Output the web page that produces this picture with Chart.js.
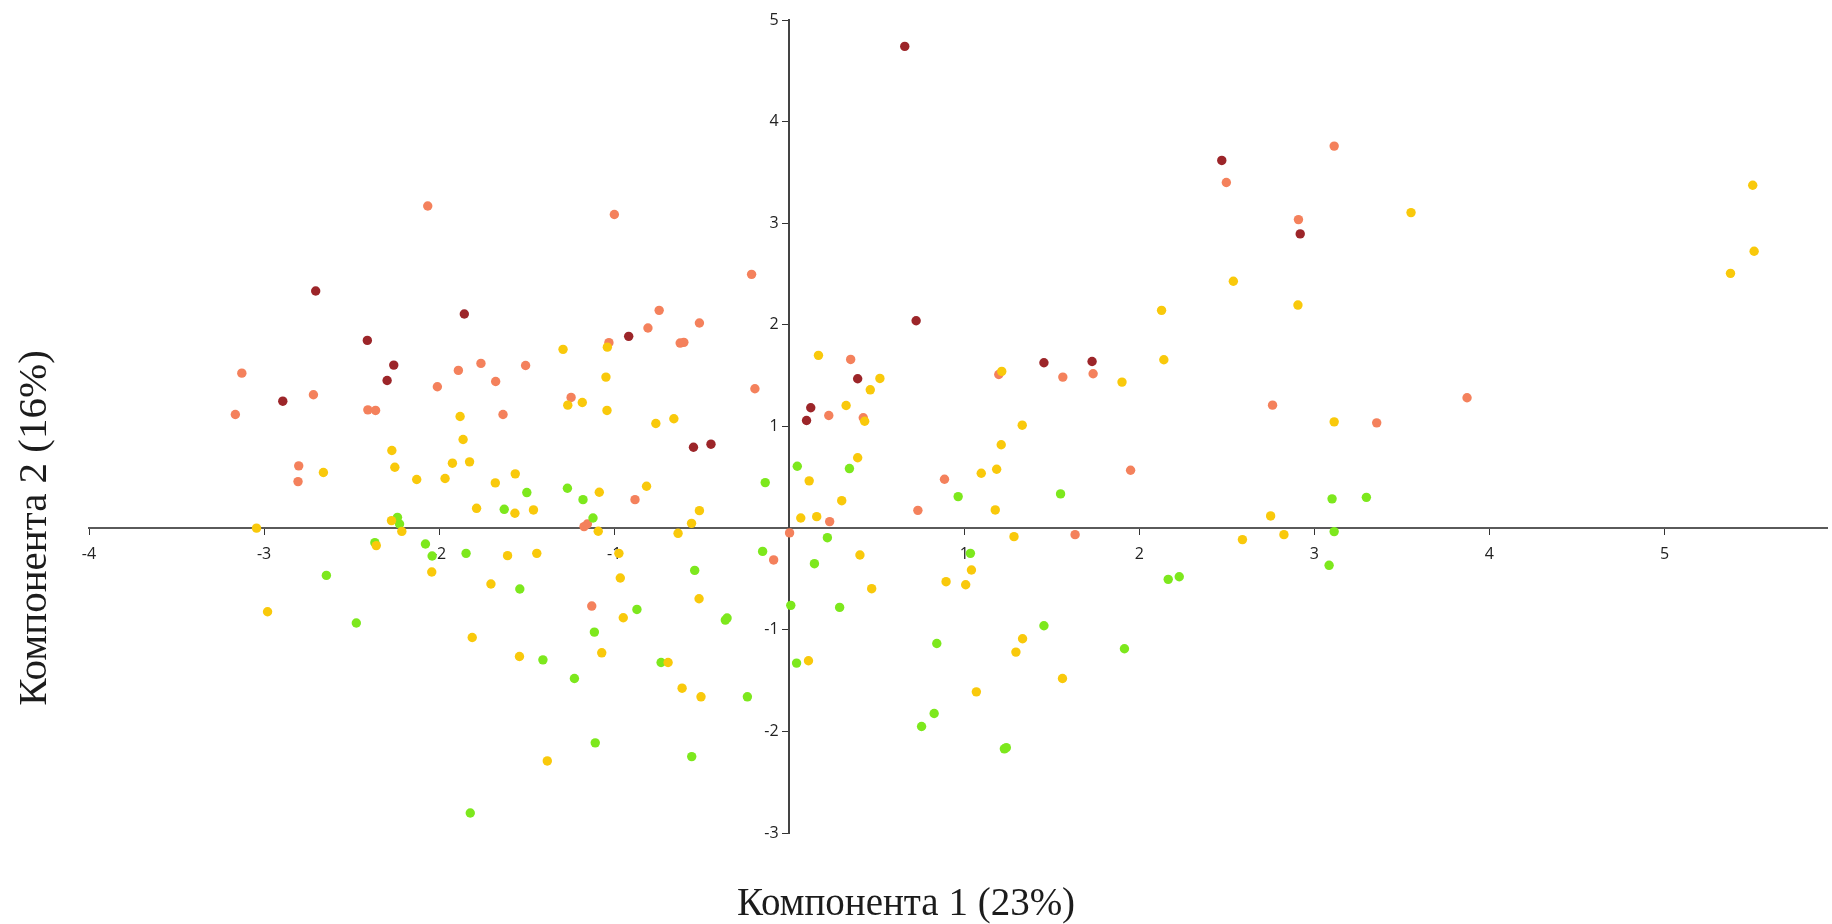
<!DOCTYPE html>
<html>
<head>
<meta charset="utf-8">
<script src="https://cdn.jsdelivr.net/npm/chart.js@4.4.1/dist/chart.umd.min.js"></script>
<style>
html,body{margin:0;padding:0;background:#ffffff;overflow:hidden;}
#wrap{position:relative;width:1832px;height:924px;}
</style>
</head>
<body>
<div id="wrap"><canvas id="c"></canvas></div>
<script>
// ---- Text ----
const xTitle = 'Компонента 1 (23%)';
const yTitle = 'Компонента 2 (16%)';

// ---- Tick labels ----
const xTickValues = [-4, -3, -2, -1, 1, 2, 3, 4, 5];
const yTickValues = [-3, -2, -1, 1, 2, 3, 4, 5];

// ---- Series (Компонента 1, Компонента 2) ----
const darkRedPoints = [
  [-2.705, 2.333], [-1.856, 2.107], [-2.41, 1.847], [-2.259, 1.604], [-2.297, 1.453],
  [-2.893, 1.249], [-0.917, 1.887], [-0.547, 0.796], [-0.447, 0.826], [0.725, 2.041],
  [0.391, 1.47], [0.123, 1.184], [0.099, 1.059], [2.471, 3.618], [2.919, 2.895],
  [1.455, 1.627], [1.73, 1.64], [0.66, 4.74]
];
const salmonPoints = [
  [-2.065, 3.17], [-1.761, 1.621], [-1.89, 1.552], [-1.506, 1.6], [-1.677, 1.443],
  [-2.01, 1.391], [-3.127, 1.525], [-2.718, 1.312], [-3.164, 1.118], [-2.407, 1.164],
  [-2.363, 1.158], [-1.635, 1.118], [-2.802, 0.613], [-2.806, 0.458],
  [-0.999, 3.086], [-0.215, 2.497], [-0.743, 2.143], [-0.807, 1.969], [-0.513, 2.018],
  [-1.03, 1.825], [-0.623, 1.821], [-0.602, 1.828], [-0.196, 1.371], [-1.246, 1.286],
  [-0.881, 0.28], [0.351, 1.66], [0.226, 1.108], [0.423, 1.086], [0.887, 0.481],
  [3.113, 3.759], [2.497, 3.401], [2.909, 3.036], [1.563, 1.486], [1.736, 1.519],
  [1.197, 1.512], [2.761, 1.21], [3.356, 1.036], [1.95, 0.57], [3.872, 1.283],
  [-1.172, 0.015], [-1.153, 0.041], [0.002, -0.047], [-0.089, -0.313], [-1.128, -0.767],
  [0.735, 0.175], [0.231, 0.064], [1.633, -0.064]
];
const yellowPoints = [
  [-1.88, 1.098], [-1.863, 0.872], [-2.27, 0.764], [-2.661, 0.547], [-2.253, 0.599],
  [-2.128, 0.478], [-1.966, 0.488], [-1.924, 0.639], [-1.826, 0.652], [-1.679, 0.445],
  [-1.565, 0.534],
  [-1.039, 1.781], [-1.292, 1.759], [-1.047, 1.486], [-1.265, 1.21], [-1.182, 1.236],
  [-1.041, 1.158], [-0.762, 1.03], [-0.659, 1.076], [-1.085, 0.353], [-0.815, 0.412],
  [0.167, 1.7], [0.518, 1.473], [0.463, 1.361], [0.325, 1.207], [0.431, 1.052],
  [0.391, 0.692], [0.114, 0.465], [0.3, 0.27],
  [3.552, 3.105], [2.537, 2.429], [2.906, 2.195], [2.127, 2.143], [2.14, 1.657],
  [1.901, 1.437], [1.214, 1.542], [3.113, 1.046], [1.331, 1.013], [1.211, 0.82],
  [1.185, 0.579], [1.097, 0.54],
  [5.504, 3.374], [5.512, 2.724], [5.377, 2.507],
  [-1.786, 0.195], [-1.567, 0.146], [-1.461, 0.179], [-3.043, 0.0], [-2.272, 0.074],
  [-2.213, -0.032], [-2.359, -0.172], [-2.042, -0.432], [-1.609, -0.271], [-1.442, -0.248],
  [-1.704, -0.55], [-2.98, -0.823], [-1.811, -1.076], [-1.541, -1.263],
  [-1.091, -0.031], [-0.513, 0.172], [-0.558, 0.047], [-0.635, -0.051], [-0.973, -0.248],
  [-0.965, -0.491], [-0.515, -0.695], [-0.948, -0.882], [-1.071, -1.227], [-0.692, -1.322],
  [-0.612, -1.575], [-0.504, -1.66], [0.066, 0.1], [0.157, 0.113], [0.404, -0.264],
  [0.471, -0.596], [0.11, -1.305], [0.896, -0.527], [1.008, -0.557], [1.041, -0.412],
  [1.069, -1.611],
  [1.177, 0.179], [1.284, -0.084], [2.75, 0.12], [2.589, -0.113], [2.826, -0.064],
  [1.333, -1.089], [1.295, -1.22], [1.561, -1.48],
  [-1.382, -2.291]
];
const greenPoints = [
  [-1.499, 0.35], [-0.137, 0.448], [-1.267, 0.392], [-1.178, 0.28], [0.046, 0.609],
  [0.344, 0.586], [0.965, 0.31], [1.55, 0.337], [3.101, 0.288], [3.297, 0.303],
  [-1.628, 0.185], [-2.238, 0.106], [-2.226, 0.041], [-2.367, -0.143], [-2.078, -0.156],
  [-2.04, -0.274], [-1.846, -0.248], [-1.539, -0.599], [-2.644, -0.465], [-2.473, -0.934],
  [-1.121, 0.1], [-0.152, -0.229], [-0.54, -0.416], [-0.87, -0.8], [-0.365, -0.905],
  [-0.355, -0.885], [-1.113, -1.023], [-1.407, -1.296], [-1.227, -1.48], [-0.732, -1.322],
  [-0.239, -1.66], [0.218, -0.094], [0.144, -0.35], [0.009, -0.76], [0.288, -0.78],
  [0.042, -1.328], [0.843, -1.135], [1.035, -0.248],
  [3.113, -0.034], [3.084, -0.366], [2.165, -0.504], [2.228, -0.478], [1.455, -0.961],
  [1.915, -1.187],
  [-1.108, -2.113], [-0.557, -2.248], [0.828, -1.824], [0.756, -1.952],
  [1.229, -2.172], [1.24, -2.16], [-1.822, -2.803]
];

const toXY = arr => arr.map(p => ({x: p[0], y: p[1]}));

const axisTitles = {
  id: 'axisTitles',
  afterDraw(chart) {
    const ctx = chart.ctx;
    ctx.save();
    ctx.fillStyle = '#1c1c1c';
    ctx.textAlign = 'center';
    ctx.textBaseline = 'middle';
    ctx.font = '39px "Liberation Serif", "Times New Roman", serif';
    ctx.fillText(xTitle, 906, 905);
    ctx.translate(35, 528);
    ctx.rotate(-Math.PI / 2);
    ctx.font = '41px "Liberation Serif", "Times New Roman", serif';
    ctx.fillText(yTitle, 0, 0);
    ctx.restore();
  }
};

const pointR = 4.7;
function ds(label, data, color) {
  return {
    label: label,
    data: toXY(data),
    backgroundColor: color,
    borderColor: color,
    borderWidth: 0,
    pointRadius: pointR,
    pointHoverRadius: pointR
  };
}

const tickFont = {family: '"Open Sans", "Noto Sans", sans-serif', size: 16};

new Chart(document.getElementById('c'), {
  type: 'scatter',
  data: {
    datasets: [
      ds('yellow', yellowPoints, '#f9c90b'),
      ds('green', greenPoints, '#7de81d'),
      ds('salmon', salmonPoints, '#f4815c'),
      ds('darkred', darkRedPoints, '#9c2529')
    ]
  },
  options: {
    responsive: true,
    maintainAspectRatio: false,
    animation: false,
    events: [],
    layout: {padding: {left: 89, right: 0, top: 20, bottom: 91}},
    plugins: {legend: {display: false}, tooltip: {enabled: false}},
    scales: {
      x: {
        type: 'linear',
        position: {y: 0},
        min: -4,
        max: 5.93,
        afterBuildTicks: s => { s.ticks = xTickValues.map(v => ({value: v})); },
        grid: {drawOnChartArea: false, drawTicks: true, tickLength: 6, color: '#333', lineWidth: 1},
        border: {display: true, color: '#5a5a5a', width: 2},
        ticks: {color: '#222', font: tickFont, padding: 11, maxRotation: 0, autoSkip: false}
      },
      y: {
        type: 'linear',
        position: {x: 0},
        min: -3,
        max: 5,
        afterBuildTicks: s => { s.ticks = yTickValues.map(v => ({value: v})); },
        grid: {drawOnChartArea: false, drawTicks: true, tickLength: 6, color: '#333', lineWidth: 1},
        border: {display: true, color: '#444', width: 2},
        ticks: {
          color: '#222', font: tickFont, autoSkip: false,
          // labels sit left of the tick marks (trailing spaces keep the gap from the axis)
          callback: v => String(v) + '\u2002\u2009'
        }
      }
    }
  },
  plugins: [axisTitles]
});
</script>
</body>
</html>
